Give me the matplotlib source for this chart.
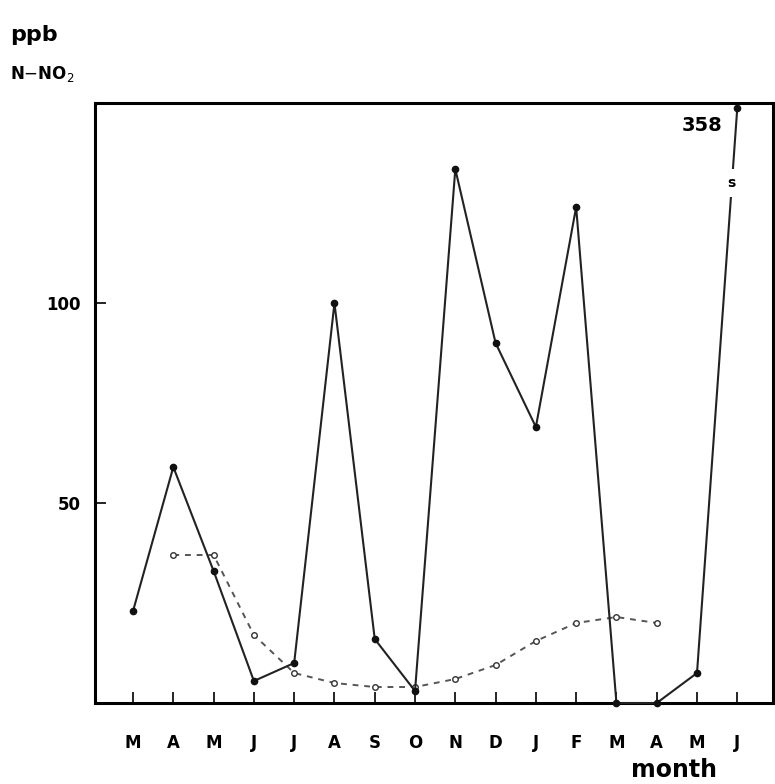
import numpy as np
import matplotlib.pyplot as plt

# Monthly N-NO2 concentrations (ppb), March through the following June
months = ['M', 'A', 'M', 'J', 'J', 'A', 'S', 'O', 'N', 'D', 'J', 'F', 'M', 'A', 'M', 'J']
no2_solid = [23, 59, 33, 5.5, 10, 100, 16, 3, 133.5, 90, 69, 124, 0, 0, 7.5, 358]
dash_months = [1, 2, 3, 4, 5, 6, 7, 8, 9, 10, 11, 12, 13]
no2_dashed = [37, 37, 17, 7.5, 5, 4, 4, 6, 9.5, 15.5, 20, 21.5, 20]

# break the y scale above 148 so the 358 peak still lands in the frame
BREAK = 148.0
SQUEEZE = 0.8 / 210.0


def fwd(y):
    y = np.asarray(y, dtype=float)
    return np.where(y <= BREAK, y, BREAK + (y - BREAK) * SQUEEZE)


def inv(y):
    y = np.asarray(y, dtype=float)
    return np.where(y <= BREAK, y, BREAK + (y - BREAK) / SQUEEZE)


fig = plt.figure(figsize=(7.75, 7.84), dpi=100)
ax = fig.add_axes([0.1226, 0.1033, 0.875, 0.7653])
ax.set_yscale('function', functions=(fwd, inv))

x = np.arange(len(months))
ax.plot(x, no2_solid, color='#222222', lw=1.5, marker='o', ms=4.5,
        mfc='#111111', mec='#111111', clip_on=False, zorder=3)
ax.plot(dash_months, no2_dashed, color='#555555', lw=1.4, ls=(0, (3, 3)),
        marker='o', ms=4, mfc='white', mec='#333333', mew=1.0, zorder=2)

# break mark on the steep last segment
ax.text(14.86, 130, 's', ha='center', va='center', fontsize=10, fontweight='bold',
        bbox=dict(facecolor='white', edgecolor='none', pad=5), zorder=4)
ax.text(14.63, 144.5, '358', ha='right', va='center', fontsize=14, fontweight='bold')

ax.set_xlim(-0.944, 15.89)
ax.set_ylim(0, float(inv(150.0)))
ax.set_xticks(x)
ax.set_xticklabels(months, fontsize=12, fontweight='bold')
ax.set_yticks([50, 100])
ax.set_yticklabels(['50', '100'], fontsize=12, fontweight='bold')
ax.yaxis.set_minor_locator(plt.NullLocator())
ax.tick_params(axis='x', direction='in', length=8, width=1.2, pad=22)
ax.tick_params(axis='y', direction='in', length=8, width=1.2, pad=10)
for s in ax.spines.values():
    s.set_linewidth(2.2)

fig.text(0.013, 0.955, 'ppb', fontsize=16, fontweight='bold', va='center')
fig.text(0.013, 0.905, r'N$-$NO$_2$', fontsize=12, fontweight='bold', va='center')
fig.text(0.925, 0.002, 'month', fontsize=17, fontweight='bold', ha='right', va='bottom')

fig.savefig('out.png', dpi=100)
